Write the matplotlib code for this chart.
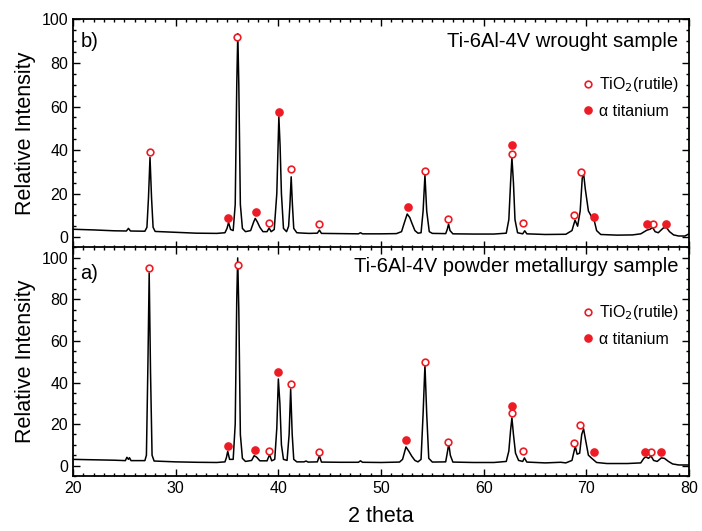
import matplotlib.pyplot as plt
from matplotlib.ticker import MultipleLocator

# XRD patterns (vertices)
# b) wrought sample
wrought_2theta = [20.0, 22.0, 24.0, 25.2, 25.4, 25.6, 27.0, 27.2, 27.35, 27.5, 27.65, 27.8, 28.0,
                  30.0, 32.0, 34.0, 34.8, 35.0, 35.15, 35.35, 35.6, 35.8, 35.95, 36.05, 36.15, 36.3,
                  36.5, 36.8, 37.3, 37.6, 37.75, 37.95, 38.2, 38.5, 38.9, 39.1, 39.3, 39.6, 39.85,
                  40.05, 40.17, 40.3, 40.5, 40.8, 41.0, 41.13, 41.25, 41.37, 41.5, 41.8, 42.5, 43.0,
                  43.8, 44.0, 44.2, 46.0, 47.8, 48.0, 48.2, 50.0, 51.5, 52.0, 52.3, 52.55, 52.8,
                  53.0, 53.3, 53.6, 53.9, 54.1, 54.28, 54.45, 54.7, 55.0, 56.3, 56.45, 56.58, 56.72,
                  57.0, 59.0, 61.0, 62.2, 62.45, 62.62, 62.75, 62.9, 63.05, 63.3, 63.8, 64.0, 64.2,
                  66.0, 68.0, 68.6, 68.9, 69.15, 69.4, 69.6, 69.73, 69.9, 70.2, 70.55, 70.75, 71.0,
                  71.4, 73.0, 74.5, 75.3, 75.9, 76.2, 76.45, 76.7, 77.0, 77.5, 77.8, 78.1, 78.5,
                  79.0, 79.6, 80.0]
wrought_int = [3.6, 3.3, 2.9, 2.8, 4.0, 2.8, 2.7, 4.5, 18, 36.6, 18, 4.5, 2.6,
               2.2, 1.8, 1.7, 2.0, 4.0, 6.7, 3.5, 3.0, 15, 70, 93.5, 70, 15,
               4.0, 2.5, 3.0, 7.0, 8.6, 7.0, 4.5, 2.5, 2.5, 4.2, 2.5, 3.5, 20,
               55.3, 42, 20, 4.0, 2.5, 5.0, 15, 27.7, 15, 4.0, 2.0, 1.8, 1.7,
               1.8, 3.2, 1.7, 1.6, 1.5, 2.0, 1.5, 1.5, 1.6, 2.5, 7.0, 10.6, 9.0,
               6.5, 3.0, 1.8, 2.0, 12, 28.5, 12, 2.5, 1.7, 1.6, 3.5, 6.0, 3.0,
               1.5, 1.4, 1.4, 1.8, 8, 25, 36.6, 25, 8, 2.0, 1.5, 2.9, 1.5,
               1.2, 1.3, 3.0, 7.8, 5.0, 12, 27, 29.3, 22, 12, 9.0, 8.0, 3.0,
               1.2, 0.9, 1.0, 1.5, 3.2, 3.6, 4.4, 2.5, 2.0, 4.2, 4.4, 2.5, 1.0,
               0.5, 0.5, 1.5]

# a) powder metallurgy sample
powder_2theta = [20.0, 22.0, 24.0, 25.1, 25.25, 25.4, 25.5, 25.65, 27.0, 27.15, 27.3, 27.42, 27.55,
                 27.7, 27.9, 30.0, 32.0, 34.0, 34.8, 34.95, 35.07, 35.25, 35.6, 35.8, 35.95, 36.04,
                 36.15, 36.3, 36.5, 36.8, 37.4, 37.65, 37.9, 38.2, 38.9, 39.15, 39.35, 39.65, 39.85,
                 40.0, 40.15, 40.3, 40.5, 40.85, 41.05, 41.2, 41.35, 41.5, 41.8, 42.5, 42.7, 42.9,
                 43.8, 44.0, 44.2, 46.0, 47.8, 48.0, 48.2, 50.0, 51.8, 52.1, 52.43, 52.7, 53.0,
                 53.3, 53.6, 53.9, 54.1, 54.28, 54.45, 54.65, 55.0, 56.3, 56.45, 56.6, 56.75, 57.0,
                 59.0, 61.0, 62.2, 62.45, 62.62, 62.75, 62.9, 63.1, 63.4, 63.8, 63.97, 64.2, 66.0,
                 67.5, 68.0, 68.6, 68.92, 69.1, 69.35, 69.55, 69.73, 69.9, 70.2, 70.6, 71.0, 72.0,
                 74.0, 75.3, 75.6, 75.8, 76.05, 76.3, 76.55, 76.9, 77.3, 77.6, 78.0, 78.4, 79.0,
                 80.0]
powder_int = [3.0, 2.8, 2.6, 2.4, 4.0, 3.0, 3.8, 2.4, 2.4, 5, 50, 92.8, 45,
              5, 2.2, 1.8, 1.6, 1.5, 1.8, 4.0, 6.9, 3.0, 3.0, 20, 80, 100,
              75, 15, 3.5, 2.0, 2.5, 4.8, 4.0, 2.3, 2.3, 5.3, 2.3, 3.0, 18,
              41.7, 30, 10, 3.0, 2.5, 15, 36.9, 15, 3.0, 1.8, 1.8, 2.2, 1.7,
              1.8, 4.8, 1.7, 1.6, 1.6, 2.3, 1.6, 1.5, 1.7, 3.0, 9.0, 7.0, 4.5,
              2.5, 1.8, 3.0, 25, 48.5, 25, 3.5, 1.7, 1.8, 6, 10.6, 5, 1.7,
              1.5, 1.5, 2.0, 7, 17, 23, 15, 6, 2.5, 2.0, 3.7, 1.7, 1.3,
              1.6, 1.3, 2.5, 9.3, 5.5, 6, 15, 17.7, 13, 5, 3.2, 1.5, 1.0,
              1.0, 1.3, 3.5, 4.2, 3.5, 4.6, 2.5, 2.0, 3.7, 3.5, 2.0, 0.8, 0.3,
              0.3]

# phase markers
wrought_rutile_x = [27.5, 36.0, 39.1, 41.25, 43.97, 54.28, 56.54, 62.76, 63.85, 68.75, 69.45, 76.54]
wrought_rutile_y = [38.9, 92.0, 6.4, 31.3, 5.8, 30.2, 8.1, 38.0, 6.4, 10.1, 30.1, 6.1]
wrought_alpha_x = [35.14, 37.78, 40.1, 52.6, 62.76, 70.74, 75.95, 77.74]
wrought_alpha_y = [8.7, 11.5, 57.4, 13.9, 42.5, 9.2, 6.1, 6.1]

powder_rutile_x = [27.42, 36.04, 39.1, 41.25, 43.97, 54.28, 56.5, 62.72, 63.85, 68.75, 69.4, 76.34]
powder_rutile_y = [95.0, 96.8, 6.9, 39.5, 6.4, 49.7, 11.2, 25.5, 7.1, 10.9, 19.4, 6.6]
powder_alpha_x = [35.14, 37.74, 39.95, 52.4, 62.72, 70.7, 75.76, 77.28]
powder_alpha_y = [9.3, 7.5, 45.0, 12.4, 28.9, 6.7, 6.7, 6.7]

red = '#ed1c24'
plt.rcParams['font.family'] = ['Liberation Sans', 'DejaVu Sans']

fig = plt.figure(figsize=(7.02, 5.31), dpi=100)
ax_b = fig.add_axes([0.104, 0.533, 0.8775, 0.4303])
ax_a = fig.add_axes([0.104, 0.1036, 0.8775, 0.4303])

panels = [
    (ax_b, wrought_2theta, wrought_int, wrought_rutile_x, wrought_rutile_y,
     wrought_alpha_x, wrought_alpha_y, (-5, 100), 'b)', 'Ti-6Al-4V wrought sample', 0.88, 0.881),
    (ax_a, powder_2theta, powder_int, powder_rutile_x, powder_rutile_y,
     powder_alpha_x, powder_alpha_y, (-5, 105), 'a)', 'Ti-6Al-4V powder metallurgy sample', 0.894, 0.862),
]

for ax, x, y, rx, ry, axx, ayy, ylim, tag, title, ty, tagy in panels:
    ax.plot(x, y, color='black', lw=1.1)
    h1, = ax.plot(rx, ry, 'o', ls='none', ms=4.8, mfc='white', mec=red, mew=1.2, label='TiO$_2$(rutile)')
    h2, = ax.plot(axx, ayy, 'o', ls='none', ms=5.2, mfc=red, mec=red, label='\u03b1 titanium')
    ax.set_xlim(20, 80)
    ax.set_ylim(*ylim)
    ax.xaxis.set_major_locator(MultipleLocator(10))
    ax.xaxis.set_minor_locator(MultipleLocator(1))
    ax.yaxis.set_major_locator(MultipleLocator(20))
    ax.yaxis.set_minor_locator(MultipleLocator(5))
    ax.tick_params(which='both', direction='in', top=True, right=True, labelsize=11.5, width=1.0)
    ax.tick_params(which='major', length=5)
    ax.tick_params(which='minor', length=2.5)
    for s in ax.spines.values():
        s.set_linewidth(1.3)
    ax.set_ylabel('Relative Intensity', fontsize=15.5, labelpad=4)
    ax.text(0.983, ty, title, transform=ax.transAxes, ha='right', va='baseline', fontsize=14.5)
    ax.text(0.012, tagy, tag, transform=ax.transAxes, ha='left', va='baseline', fontsize=14.5)
    ax.legend(handles=[h1, h2], loc='upper left', bbox_to_anchor=(0.829, 0.755), frameon=False,
              handlelength=0.6, handletextpad=0.35, borderpad=0, borderaxespad=0,
              labelspacing=0.6, fontsize=11.5)

ax_b.tick_params(labelbottom=False)
ax_a.set_xlabel('2 theta', fontsize=15.5, labelpad=7)

fig.savefig('out.png', dpi=100)
